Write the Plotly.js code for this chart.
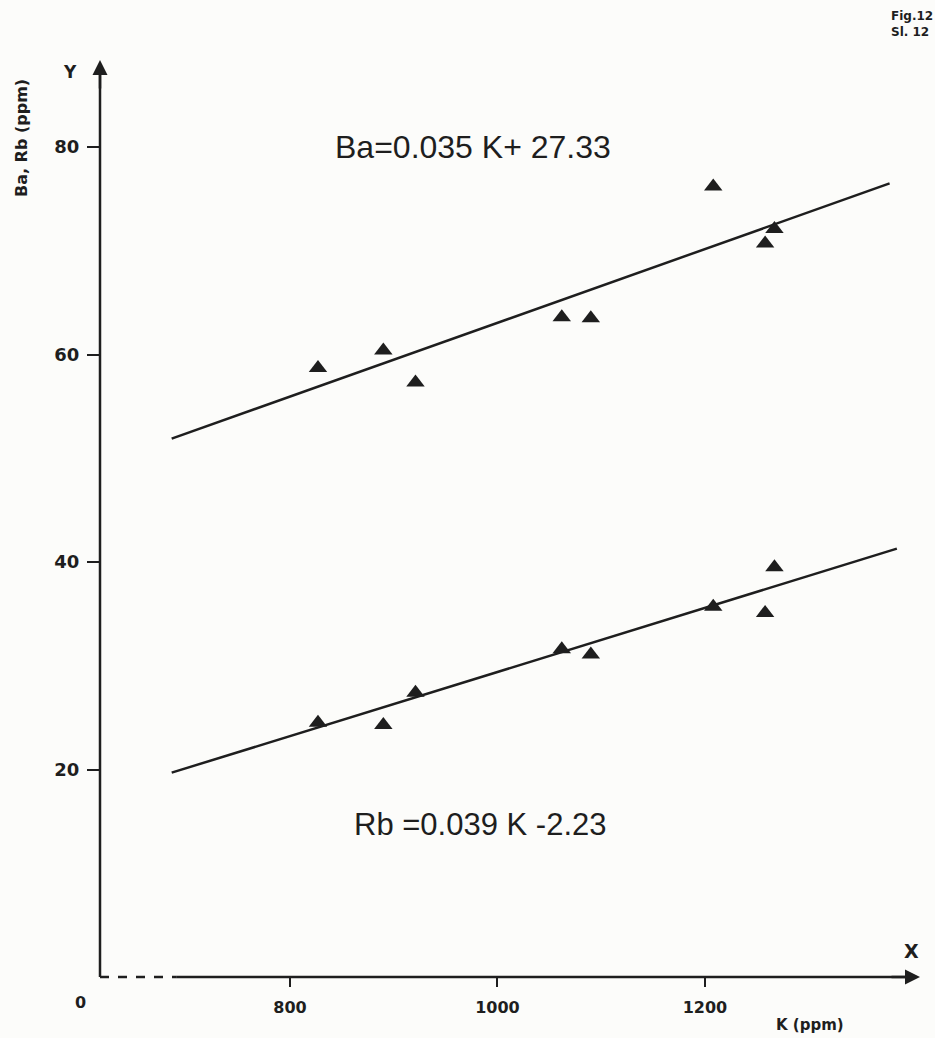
<!DOCTYPE html>
<html>
<head>
<meta charset="utf-8">
<script src="https://cdn.plot.ly/plotly-3.0.1.min.js"></script>
<style>html,body{margin:0;padding:0;background:#fcfcfa;}#chart{width:935px;height:1038px;}</style>
</head>
<body>
<div id="chart"></div>
<script>
// Sample K contents (ppm)
const kValues = [827, 890, 921, 1062, 1090, 1208, 1258, 1267];
// Ba (ppm)
const baValues = [58.7, 60.4, 57.3, 63.6, 63.5, 76.2, 70.7, 72.1];
// Rb (ppm)
const rbValues = [24.5, 24.3, 27.4, 31.6, 31.1, 35.7, 35.1, 39.5];
// Regression line end points as drawn
const baLineK = [686, 1378];
const baLineVals = [51.9, 76.5];
const rbLineK = [686, 1385];
const rbLineVals = [19.7, 41.3];
// Tick labels
const xTicks = [800, 1000, 1200];
const yTicks = [20, 40, 60, 80];
// Axis break position (start of solid x-axis)
const xBreak = 691;

const ink = '#1e1e1e';
const markerStyle = {symbol: 'triangle-up', size: 16, color: ink, line: {width: 0}};

const traces = [
  {x: baLineK, y: baLineVals, mode: 'lines', line: {color: ink, width: 2.5}, hoverinfo: 'skip'},
  {x: rbLineK, y: rbLineVals, mode: 'lines', line: {color: ink, width: 2.5}, hoverinfo: 'skip'},
  {x: kValues, y: baValues, mode: 'markers', marker: markerStyle, name: 'Ba'},
  {x: kValues, y: rbValues, mode: 'markers', marker: markerStyle, name: 'Rb'}
];

const xTickFont = {family: 'DejaVu Sans', size: 16, color: ink, weight: 'bold'};
const yTickFont = {family: 'DejaVu Sans', size: 18, color: ink, weight: 'bold'};

const layout = {
  width: 935, height: 1038,
  margin: {l: 100, r: 15, t: 60, b: 61},
  paper_bgcolor: '#fcfcfa', plot_bgcolor: '#fcfcfa',
  showlegend: false,
  xaxis: {
    range: [616.9, 1407.3], showgrid: false, zeroline: false, showline: false,
    tickvals: xTicks, ticktext: xTicks.map(String), ticks: 'outside', ticklen: 9, tickwidth: 2,
    tickcolor: ink, tickfont: xTickFont, ticklabelstandoff: 7
  },
  yaxis: {
    range: [0, 88.4], showgrid: false, zeroline: false, showline: false,
    tickvals: yTicks, ticktext: yTicks.map(String), ticks: 'outside', ticklen: 12, tickwidth: 2,
    tickcolor: ink, tickfont: yTickFont, ticklabelstandoff: 4
  },
  shapes: [
    {type: 'line', xref: 'paper', yref: 'paper', x0: 0, x1: 0, y0: 0, y1: 0.99, line: {color: ink, width: 2.5}},
    {type: 'line', xref: 'paper', yref: 'paper', x0: 0, x1: (xBreak - 616.9) / (1407.3 - 616.9), y0: 0, y1: 0, line: {color: ink, width: 2.5, dash: 'dash'}},
    {type: 'line', xref: 'x', yref: 'paper', x0: xBreak, x1: 1400, y0: 0, y1: 0, line: {color: ink, width: 2.5}}
  ],
  annotations: [
    {xref: 'paper', yref: 'paper', x: 0, y: 1.0, ax: 0, ay: 30, showarrow: true, arrowhead: 2, arrowsize: 1.2, arrowwidth: 2.5, arrowcolor: ink, text: ''},
    {xref: 'paper', yref: 'paper', x: 1.0, y: 0, ax: -30, ay: 0, showarrow: true, arrowhead: 2, arrowsize: 1.2, arrowwidth: 2.5, arrowcolor: ink, text: ''},
    {xref: 'paper', yref: 'paper', x: 0.455, y: 0.905, xanchor: 'center', yanchor: 'middle', showarrow: false,
     text: 'Ba=0.035 K+ 27.33', font: {family: 'Liberation Sans', size: 32, color: ink}},
    {xref: 'paper', yref: 'paper', x: 0.463, y: 0.166, xanchor: 'center', yanchor: 'middle', showarrow: false,
     text: 'Rb =0.039 K -2.23', font: {family: 'Liberation Sans', size: 31, color: ink}},
    {xref: 'paper', yref: 'paper', x: -0.024, y: -0.028, xanchor: 'center', yanchor: 'middle', showarrow: false,
     text: '0', font: xTickFont},
    {xref: 'paper', yref: 'paper', x: -0.036, y: 1.0, xanchor: 'center', yanchor: 'top', showarrow: false,
     text: 'Y', font: {family: 'DejaVu Sans', size: 17, color: ink, weight: 'bold'}},
    {xref: 'paper', yref: 'paper', x: 0.99, y: 0.028, xanchor: 'center', yanchor: 'middle', showarrow: false,
     text: 'X', font: {family: 'DejaVu Sans', size: 19, color: ink, weight: 'bold'}},
    {xref: 'paper', yref: 'paper', x: 0.866, y: -0.052, xanchor: 'center', yanchor: 'middle', showarrow: false,
     text: 'K (ppm)', font: {family: 'DejaVu Sans', size: 15, color: ink, weight: 'bold'}},
    {xref: 'paper', yref: 'paper', x: -0.095, y: 0.915, xanchor: 'center', yanchor: 'middle', showarrow: false, textangle: -90,
     text: 'Ba, Rb (ppm)', font: {family: 'DejaVu Sans', size: 16, color: ink, weight: 'bold'}},
    {xref: 'paper', yref: 'paper', x: 0.962, y: 1.058, xanchor: 'left', yanchor: 'top', showarrow: false, align: 'left',
     text: 'Fig.12<br>Sl. 12', font: {family: 'DejaVu Sans', size: 12, color: ink, weight: 'bold'}}
  ]
};

Plotly.newPlot('chart', traces, layout, {displayModeBar: false, staticPlot: true});
</script>
</body>
</html>
